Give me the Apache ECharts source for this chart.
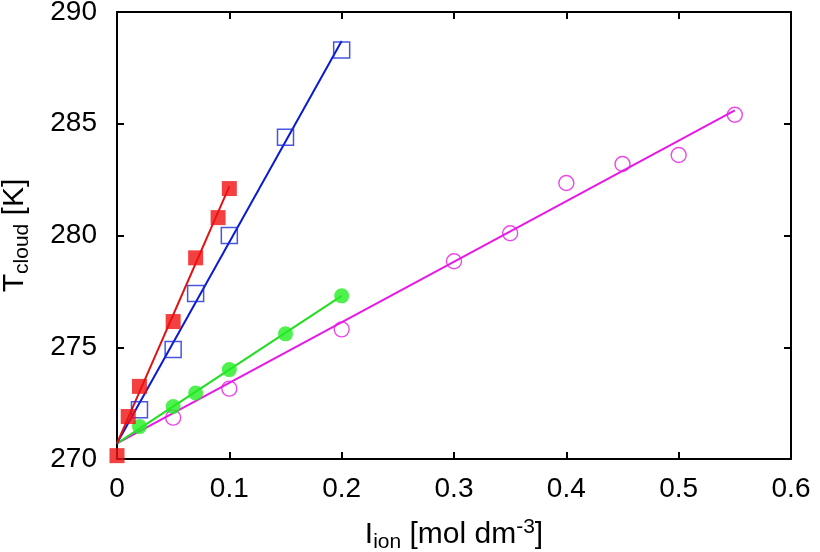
<!DOCTYPE html>
<html>
<head>
<meta charset="utf-8">
<script src="https://cdn.jsdelivr.net/npm/echarts@6/dist/echarts.min.js"></script>
<style>html,body{margin:0;padding:0;background:#fff}#c{width:820px;height:552px}</style>
</head>
<body>
<div id="c"></div>
<script>
// Data
var xTicks = [0, 0.1, 0.2, 0.3, 0.4, 0.5, 0.6];
var yTicks = [270, 275, 280, 285, 290];

var redX = [0, 0.01, 0.02, 0.05, 0.07, 0.09, 0.1];
var redY = [270.15, 271.9, 273.25, 276.15, 279.0, 280.8, 282.1];
var redFit = [[0, 270.7], [0.1, 282.2]];

var blueX = [0.02, 0.05, 0.07, 0.1, 0.15, 0.2];
var blueY = [272.2, 274.9, 277.4, 280.0, 284.4, 288.3];
var blueFit = [[0, 270.7], [0.2, 288.7]];

var greenX = [0.02, 0.05, 0.07, 0.1, 0.15, 0.2];
var greenY = [271.45, 272.35, 272.95, 274.0, 275.6, 277.3];
var greenFit = [[0, 270.7], [0.2, 277.3]];

var magX = [0.05, 0.1, 0.2, 0.3, 0.35, 0.4, 0.45, 0.5, 0.55];
var magY = [271.85, 273.15, 275.8, 278.85, 280.1, 282.35, 283.2, 283.6, 285.4];
var magFit = [[0, 270.7], [0.55, 285.6]];

function pts(xs, ys) { return xs.map(function (x, i) { return [x, ys[i]]; }); }

var FONT = 'Liberation Sans';
var chart = echarts.init(document.getElementById('c'), null, { renderer: 'canvas' });

var baseX = {
  type: 'value', min: 0, max: 0.6, interval: 0.1,
  axisLine: { show: true, onZero: false, lineStyle: { color: '#000', width: 2 } },
  axisTick: { show: true, inside: true, length: 7, lineStyle: { color: '#000', width: 2 } },
  splitLine: { show: false }
};
var baseY = {
  type: 'value', min: 270, max: 290, interval: 5,
  axisLine: { show: true, onZero: false, lineStyle: { color: '#000', width: 2 } },
  axisTick: { show: true, inside: true, length: 7, lineStyle: { color: '#000', width: 2 } },
  splitLine: { show: false }
};

chart.setOption({
  animation: false,
  backgroundColor: '#fff',
  grid: { left: 117, right: 29, top: 12, bottom: 93, containLabel: false, outerBoundsMode: 'none' },
  xAxis: [
    Object.assign({}, baseX, {
      position: 'bottom',
      axisLabel: { show: true, margin: 16, color: '#000', fontFamily: FONT, fontSize: 28,
        formatter: function (v) { return String(Math.round(v * 10) / 10); } },
      name: '{m|I}{s|ion}{m| [mol dm}{p|-3}{m|]}',
      nameLocation: 'middle', nameGap: 58,
      nameTextStyle: {
        rich: {
          m: { fontFamily: FONT, fontSize: 30, color: '#000', lineHeight: 36, verticalAlign: 'middle' },
          s: { fontFamily: FONT, fontSize: 21, color: '#000', verticalAlign: 'bottom', lineHeight: 22 },
          p: { fontFamily: FONT, fontSize: 21, color: '#000', verticalAlign: 'top', lineHeight: 12 }
        }
      }
    }),
    Object.assign({}, baseX, { position: 'top', axisLabel: { show: false } })
  ],
  yAxis: [
    Object.assign({}, baseY, {
      position: 'left',
      axisLabel: { show: true, margin: 20, color: '#000', fontFamily: FONT, fontSize: 28 },
      name: '{m|T}{s|cloud}{m| [K]}',
      nameLocation: 'middle', nameGap: 84, nameRotate: 90,
      nameTextStyle: {
        rich: {
          m: { fontFamily: FONT, fontSize: 30, color: '#000', lineHeight: 36, verticalAlign: 'middle' },
          s: { fontFamily: FONT, fontSize: 21, color: '#000', verticalAlign: 'bottom', lineHeight: 22 }
        }
      }
    }),
    Object.assign({}, baseY, { position: 'right', axisLabel: { show: false } })
  ],
  series: [
    { type: 'line', data: magFit, symbol: 'none', lineStyle: { color: '#e619e6', width: 2 }, z: 2 },
    { type: 'line', data: greenFit, symbol: 'none', lineStyle: { color: '#22dd22', width: 2 }, z: 2 },
    { type: 'line', data: blueFit, symbol: 'none', lineStyle: { color: '#0a1ad0', width: 2 }, z: 2 },
    { type: 'line', data: redFit, symbol: 'none', lineStyle: { color: '#e01010', width: 2 }, z: 2 },
    { type: 'scatter', data: pts(magX, magY), symbol: 'circle', symbolSize: 15, clip: false,
      itemStyle: { color: 'rgba(255,255,255,0)', borderColor: '#e619e6', borderWidth: 1.4 }, z: 3 },
    { type: 'scatter', data: pts(greenX, greenY), symbol: 'circle', symbolSize: 15, clip: false,
      itemStyle: { color: '#22ee22' }, z: 3 },
    { type: 'scatter', data: pts(blueX, blueY), symbol: 'rect', symbolSize: 16, clip: false,
      itemStyle: { color: 'rgba(255,255,255,0)', borderColor: '#1a2ad8', borderWidth: 1.5 }, z: 3 },
    { type: 'scatter', data: pts(redX, redY), symbol: 'rect', symbolSize: 15, clip: false,
      itemStyle: { color: '#f01010' }, z: 4 }
  ]
});
</script>
</body>
</html>
